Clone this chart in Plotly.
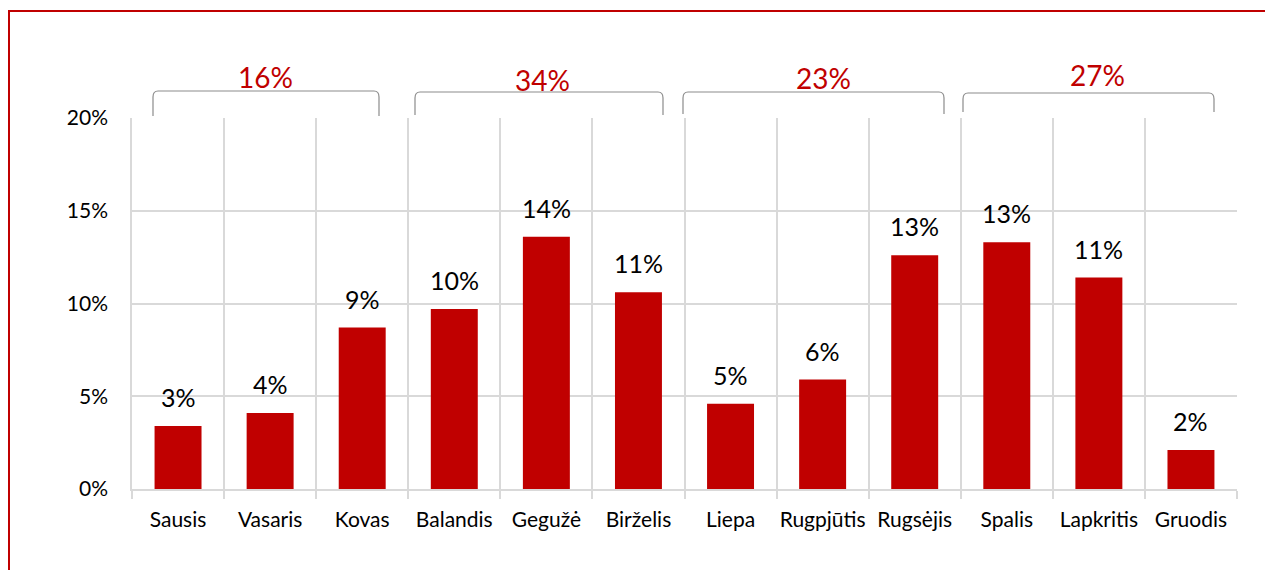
import plotly.graph_objects as go

months = ["Sausis", "Vasaris", "Kovas", "Balandis", "Gegužė", "Birželis",
          "Liepa", "Rugpjūtis", "Rugsėjis", "Spalis", "Lapkritis", "Gruodis"]
shares = [0.034, 0.041, 0.087, 0.097, 0.136, 0.106,
          0.046, 0.059, 0.126, 0.133, 0.114, 0.021]
quarters = [(0, 2), (3, 5), (6, 8), (9, 11)]

RED = "#C00000"
GRID = "#d9d9d9"
FONT = "Lato"

# page body has an 8px margin, so the figure is drawn at (8, 8)
OFF = 8
W, H = 1273, 570
L, R, T, B = 132 - OFF, W - 1237 + OFF, 118 - OFF, H - 489 + OFF
PW, PH = W - L - R, H - T - B

# bracket geometry per quarter, in page pixels: left, right, top, bottom, label x, label y
brackets = [(153, 379, 91, 116, 265, 77),
            (415, 663, 92, 115, 542, 80),
            (683, 944, 92, 114, 823, 78),
            (963, 1214, 93, 112, 1097, 75)]


def px_x(p):
    return (p - OFF - L) / PW


def px_y(p):
    return (H - B - (p - OFF)) / PH


fig = go.Figure()
fig.add_trace(go.Bar(
    x=months, y=shares, marker=dict(color=RED, line=dict(width=0)),
    hoverinfo="x+y",
))

annotations = []
for m, v in zip(months, shares):
    annotations.append(dict(
        x=m, y=v, xref="x", yref="y", text=f"{round(v * 100):.0f}%",
        showarrow=False, xanchor="center", yanchor="middle", yshift=29,
        font=dict(family=FONT, size=25, color="#000000"),
    ))

shapes = []
rx, ry = 5 / PW, 6 / PH
for (a, b), (bl, br, bt, bb, lx, ly) in zip(quarters, brackets):
    x0, x1, y_top, y_bot = px_x(bl), px_x(br), px_y(bt), px_y(bb)
    path = (f"M {x0},{y_bot} L {x0},{y_top - ry} Q {x0},{y_top} {x0 + rx},{y_top} "
            f"L {x1 - rx},{y_top} Q {x1},{y_top} {x1},{y_top - ry} L {x1},{y_bot}")
    shapes.append(dict(type="path", path=path, xref="paper", yref="paper",
                       line=dict(color="#8c8c8c", width=1.2)))
    total = sum(shares[a:b + 1])
    annotations.append(dict(
        x=px_x(lx), y=px_y(ly), xref="paper", yref="paper",
        text=f"{round(total * 100):.0f}%", showarrow=False,
        xanchor="center", yanchor="middle",
        font=dict(family=FONT, size=28, color=RED),
    ))

# red frame (left and top edges)
fx, fy = px_x(9), px_y(11)
shapes.append(dict(type="path", xref="paper", yref="paper",
                   path=f"M {fx},{px_y(600)} L {fx},{fy} L {px_x(1300)},{fy}",
                   line=dict(color=RED, width=2)))

fig.update_layout(
    width=W, height=H,
    margin=dict(l=L, r=R, t=T, b=B, autoexpand=False),
    plot_bgcolor="white", paper_bgcolor="white",
    showlegend=False, bargap=0.49,
    font=dict(family=FONT, size=21, color="#000000"),
    annotations=annotations, shapes=shapes,
)
fig.update_xaxes(
    type="category", tickson="boundaries", showgrid=True, gridcolor=GRID,
    gridwidth=1.5, ticks="outside", ticklen=8, tickcolor=GRID, tickwidth=1.5,
    showline=True, linecolor=GRID, linewidth=1.5, ticklabelstandoff=11,
    tickangle=0, tickfont=dict(family=FONT, size=21), fixedrange=True,
)
fig.update_yaxes(
    range=[0, 0.2], dtick=0.05, tickformat=".0%", showgrid=True,
    gridcolor=GRID, gridwidth=1.5, zeroline=False, ticklabelstandoff=18,
    showline=True, linecolor=GRID, linewidth=1.5,
    tickfont=dict(family=FONT, size=21), fixedrange=True,
)

fig.write_html("out.html")
